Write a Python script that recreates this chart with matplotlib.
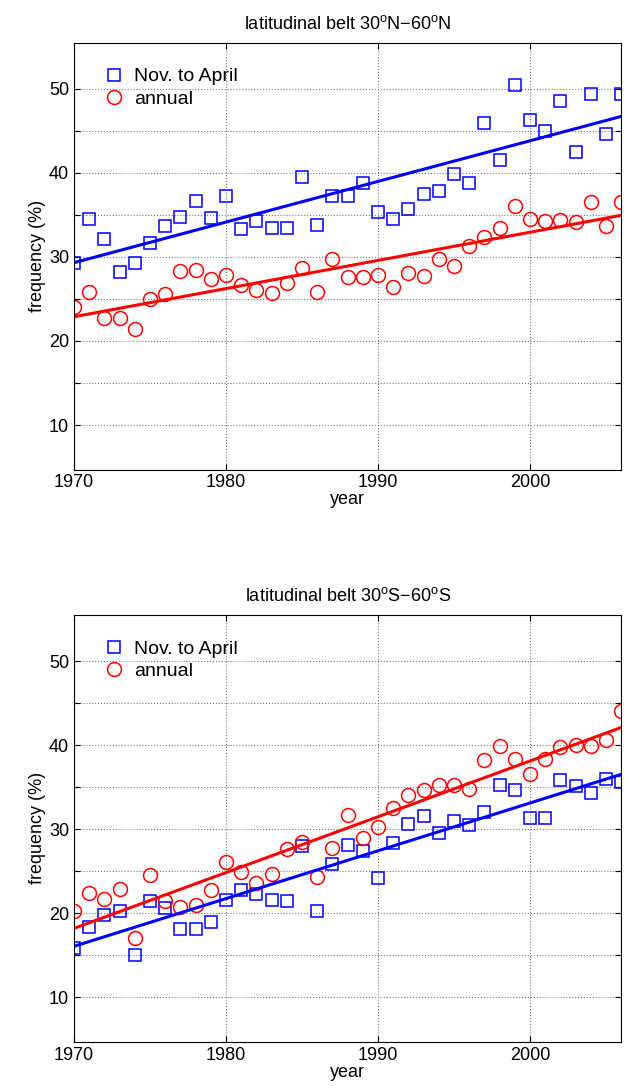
import numpy as np
import matplotlib
matplotlib.use('Agg')
import matplotlib.pyplot as plt

years = np.arange(1970, 2007)

# ── DATA ──────────────────────────────────────────────────────────────
north_winter = [29.3, 34.5, 32.1, 28.2, 29.3, 31.7, 33.7, 34.8, 36.7, 34.6,
                37.3, 33.3, 34.3, 33.4, 33.4, 39.5, 33.8, 37.3, 37.3, 38.8,
                35.4, 34.5, 35.7, 37.5, 37.9, 39.9, 38.8, 45.9, 41.5, 50.4,
                46.3, 45.0, 48.5, 42.5, 49.4, 44.6, 49.4]
north_annual = [24.1, 25.8, 22.7, 22.7, 21.4, 25.0, 25.6, 28.3, 28.5, 27.4,
                27.8, 26.6, 26.1, 25.7, 26.9, 28.7, 25.8, 29.8, 27.6, 27.6,
                27.8, 26.4, 28.1, 27.7, 29.7, 28.9, 31.3, 32.4, 33.4, 36.0,
                34.5, 34.3, 34.4, 34.1, 36.5, 33.7, 36.5]
south_winter = [15.8, 18.4, 19.8, 20.3, 15.0, 21.5, 20.6, 18.1, 18.1, 18.9,
                21.6, 22.7, 22.3, 21.6, 21.4, 28.0, 20.3, 25.8, 28.1, 27.4,
                24.2, 28.3, 30.6, 31.6, 29.5, 31.0, 30.5, 32.0, 35.2, 34.6,
                31.3, 31.3, 35.8, 35.1, 34.3, 36.0, 35.6]
south_annual = [20.2, 22.4, 21.7, 22.9, 17.1, 24.5, 21.4, 20.7, 21.0, 22.8,
                26.1, 24.9, 23.6, 24.7, 27.6, 28.5, 24.3, 27.8, 31.7, 29.0,
                30.2, 32.5, 34.1, 34.7, 35.2, 35.2, 34.8, 38.2, 39.9, 38.3,
                36.5, 38.3, 39.8, 40.0, 39.9, 40.6, 44.1]

panels = [
    ("latitudinal belt 30$^{\\rm o}$N$-$60$^{\\rm o}$N", north_winter, north_annual),
    ("latitudinal belt 30$^{\\rm o}$S$-$60$^{\\rm o}$S", south_winter, south_annual),
]

plt.rcParams['font.family'] = ['Liberation Sans', 'DejaVu Sans']
plt.rcParams['mathtext.fontset'] = 'custom'
plt.rcParams['mathtext.rm'] = 'Liberation Sans'

fig = plt.figure(figsize=(6.28, 10.92), dpi=100)
rects = [[0.118, 0.570, 0.871, 0.391], [0.118, 0.046, 0.871, 0.391]]

for rect, (title, winter, annual) in zip(rects, panels):
    ax = fig.add_axes(rect)
    ax.plot(years, winter, 's', mfc='none', mec='blue', ms=8, mew=1.1,
            label='Nov. to April')
    ax.plot(years, annual, 'o', mfc='none', mec='red', ms=10, mew=1.1,
            label='annual')
    # linear trends
    for vals, col in [(winter, 'blue'), (annual, 'red')]:
        p = np.polyfit(years, vals, 1)
        ax.plot(years, np.polyval(p, years), color=col, lw=2.2)

    ax.set_xlim(1970, 2006)
    ax.set_ylim(4.7, 55.5)
    ax.set_xticks([1970, 1980, 1990, 2000])
    ax.set_yticks(np.arange(10, 55, 5))
    ax.set_yticklabels([str(v) if v % 10 == 0 else '' for v in range(10, 55, 5)])
    ax.tick_params(direction='in', top=True, right=True, labelsize=13, length=4)
    ax.grid(True, linestyle=':', color='#777777', linewidth=0.8)
    ax.set_xlabel('year', fontsize=13, labelpad=0)
    ax.set_ylabel('frequency (%)', fontsize=13, labelpad=2)
    ax.set_title(title, fontsize=13, pad=10)
    ax.legend(loc='upper left', frameon=False, fontsize=14, handletextpad=0.3,
              borderaxespad=0.9, labelspacing=0.25, handlelength=1.5)

fig.savefig('out.png', dpi=100)
